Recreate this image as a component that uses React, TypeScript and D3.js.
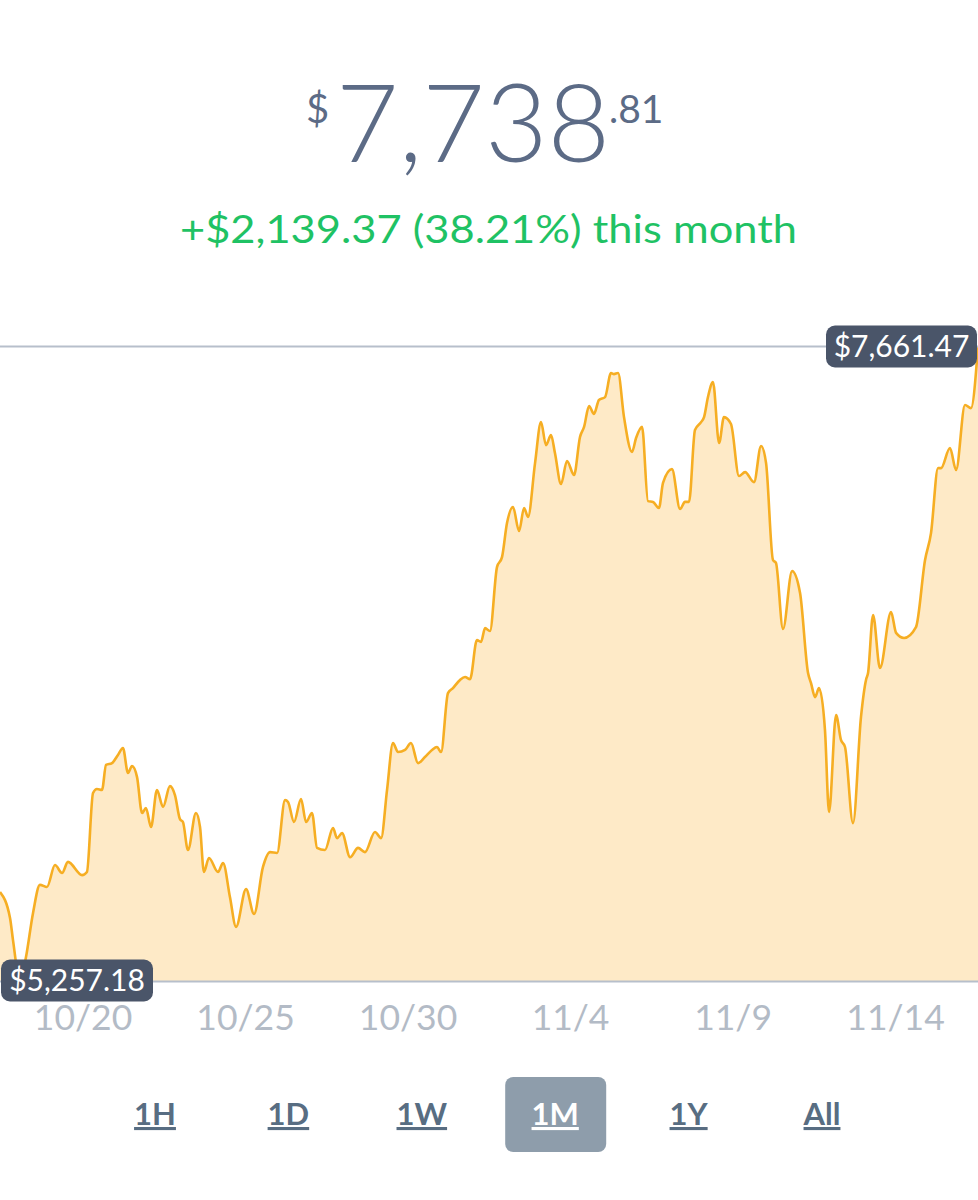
import React from "react";
import * as d3 from "d3";

// ---- data ----
const startTime = Date.UTC(2017, 9, 17, 10, 40);
const hoursFromStart = [
  0, 7.4, 9.6, 14.8, 19.2, 24.4, 29.5, 34.7, 40.6, 45.8, 50.2, 60.6, 64.2, 68.7, 71.6, 75.3, 78.3, 82.7, 87.1, 90.8,
  94.5, 97.5, 101.2, 104.9, 107.8, 111.5, 115.9, 120.4, 125.5, 129.2, 132.9, 135.1, 138.8, 144.7, 147.7, 150.6, 154.3,
  161, 164.7, 169.8, 174.3, 181.7, 187.6, 194.2, 199.4, 204.6, 210.5, 212.7, 217.1, 222.3, 226, 230.4, 234.1, 240,
  245.9, 248.9, 252.6, 258.5, 264.4, 269.5, 276.9, 281.4, 285.8, 290.2, 293.9, 299.1, 303.5, 308.7, 313.8, 319, 322.7,
  325.7, 330.8, 334.5, 339.7, 343.4, 347.1, 352.2, 355.2, 358.2, 361.8, 367, 370.7, 374.4, 378.8, 383.3, 387, 389.9,
  395.1, 399.5, 403.2, 406.9, 409.8, 414.3, 418.7, 423.9, 428.3, 431.3, 435, 438.6, 442.3, 446.8, 451.2, 453.4, 456.4,
  460.8, 466.7, 469.7, 474.1, 478.5, 482.2, 486.6, 489.6, 496.2, 502.2, 505.8, 508.8, 513.2, 517.7, 519.9, 522.8,
  526.5, 531, 534.6, 539.8, 545.7, 550.2, 556.8, 562, 565.7, 570.8, 573, 578.2, 584.9, 590.8, 596.7, 598.9, 601.9,
  604.8, 609.2, 612.2, 617.4, 621, 624, 629.9, 635.8, 639.5, 641, 644.7, 649.8, 658, 661.7, 667.6, 676.4, 683.1, 687.5,
  692.7, 694.9, 701.5, 706, 712.6, 717, 722.2,
];
const prices = [
  5596, 5498, 5414, 5257.18, 5350, 5517, 5623, 5615, 5698, 5668, 5710, 5660, 5672, 5971, 5986, 5982, 6077, 6084, 6115,
  6141, 6047, 6073, 6031, 5895, 5914, 5842, 5982, 5918, 5997, 5963, 5872, 5861, 5755, 5895, 5842, 5672, 5725, 5672,
  5706, 5577, 5464, 5607, 5513, 5691, 5747, 5744, 5944, 5937, 5861, 5948, 5861, 5895, 5763, 5755, 5838, 5800, 5819,
  5728, 5763, 5747, 5823, 5800, 5982, 6160, 6126, 6134, 6160, 6084, 6107, 6134, 6145, 6126, 6349, 6368, 6399, 6410,
  6402, 6550, 6543, 6595, 6584, 6826, 6864, 6993, 7054, 6963, 7050, 7016, 7220, 7375, 7288, 7326, 7258, 7141, 7228,
  7175, 7319, 7357, 7436, 7406, 7459, 7470, 7561, 7557, 7561, 7394, 7262, 7315, 7357, 7076, 7073, 7050, 7145, 7197,
  7046, 7073, 7073, 7345, 7375, 7394, 7470, 7527, 7296, 7394, 7368, 7171, 7186, 7148, 7285, 7220, 6853, 6842, 6592,
  6811, 6728, 6425, 6387, 6334, 6368, 6209, 5899, 6266, 6172, 6145, 5857, 6259, 6399, 6425, 6645, 6444, 6656, 6577,
  6558, 6599, 6853, 6955, 7201, 7201, 7277, 7194, 7440, 7428, 7661.47,
];
const tickDates = ["2017-10-20", "2017-10-25", "2017-10-30", "2017-11-04", "2017-11-09", "2017-11-14"];
const tickLabels = ["10/20", "10/25", "10/30", "11/4", "11/9", "11/14"];
const rangeButtons = ["1H", "1D", "1W", "1M", "1Y", "All"];
const activeRange = "1M";
const currentWhole = "7,738";
const currentCents = ".81";
const changeText = "+$2,139.37 (38.21%) this month";
const maxPrice = 7661.47;
const minPrice = 5257.18;

const W = 978;
const H = 1200;
const FONT = "Lato, 'Open Sans', sans-serif";

export default function App() {
  const data = hoursFromStart.map((h, i) => ({ t: new Date(startTime + h * 3600e3), v: prices[i] }));
  const x = d3
    .scaleUtc()
    .domain([new Date(startTime), new Date(startTime + hoursFromStart[hoursFromStart.length - 1] * 3600e3)])
    .range([0, W]);
  const y = d3.scaleLinear().domain([minPrice, maxPrice]).range([981.5, 346.5]);

  const line = d3
    .line<{ t: Date; v: number }>()
    .x((d) => x(d.t))
    .y((d) => y(d.v))
    .curve(d3.curveMonotoneX);
  const area = d3
    .area<{ t: Date; v: number }>()
    .x((d) => x(d.t))
    .y0(y(minPrice))
    .y1((d) => y(d.v))
    .curve(d3.curveMonotoneX);

  const fmt = d3.format(",.2f");
  const btnX = d3.scalePoint().domain(rangeButtons).range([155, 822]);

  return (
    <svg width={W} height={H} style={{ position: "absolute", left: 0, top: 0, background: "#fff" }} fontFamily={FONT}>
      {/* header */}
      <text x={306} y={123} fontSize={40} fill="#5c6b86" fontWeight={400}>$</text>
      <text x={336} y={162} fontSize={108} fill="#5c6b86" fontWeight={300}>{currentWhole}</text>
      <text x={609} y={123} fontSize={39} fill="#5c6b86" fontWeight={400}>{currentCents}</text>
      <text
        x={180}
        y={243}
        fontSize={39}
        fill="#1fc264"
        textLength={617}
        lengthAdjust="spacingAndGlyphs"
      >
        {changeText}
      </text>

      {/* area + line */}
      <path d={area(data) || ""} fill="#feeac7" />
      <path d={line(data) || ""} fill="none" stroke="#f6ae23" strokeWidth={2.6} strokeLinejoin="round" />

      {/* reference lines */}
      <line x1={0} x2={W} y1={y(maxPrice)} y2={y(maxPrice)} stroke="#b7bfcb" strokeWidth={2} />
      <line x1={0} x2={W} y1={y(minPrice)} y2={y(minPrice)} stroke="#b7bfcb" strokeWidth={2} />

      {/* max label */}
      <rect x={826} y={y(maxPrice) - 21} width={151} height={42} rx={9} fill="#4a5569" />
      <text x={901.5} y={y(maxPrice) + 10.5} fontSize={30} fill="#fff" textAnchor="middle">{"$" + fmt(maxPrice)}</text>
      {/* min label */}
      <rect x={1} y={y(minPrice) - 22} width={152} height={42} rx={9} fill="#4a5569" />
      <text x={77} y={y(minPrice) + 9.5} fontSize={30} fill="#fff" textAnchor="middle">{"$" + fmt(minPrice)}</text>

      {/* x ticks */}
      {tickDates.map((d, i) => (
        <text key={d} x={x(new Date(d + "T00:00:00Z"))} y={1030} fontSize={35.5} fill="#b3bbc6" textAnchor="middle" fontWeight={400}>
          {tickLabels[i]}
        </text>
      ))}

      {/* range buttons */}
      {rangeButtons.map((b) => {
        const cx = btnX(b) as number;
        const active = b === activeRange;
        return (
          <g key={b}>
            {active && <rect x={cx - 50} y={1077} width={101} height={75} rx={8} fill="#8e9dab" />}
            <text
              x={cx}
              y={1125}
              fontSize={31}
              fontWeight={700}
              fill={active ? "#fff" : "#586d82"}
              textAnchor="middle"
              textDecoration="underline"
            >
              {b}
            </text>
          </g>
        );
      })}
    </svg>
  );
}
